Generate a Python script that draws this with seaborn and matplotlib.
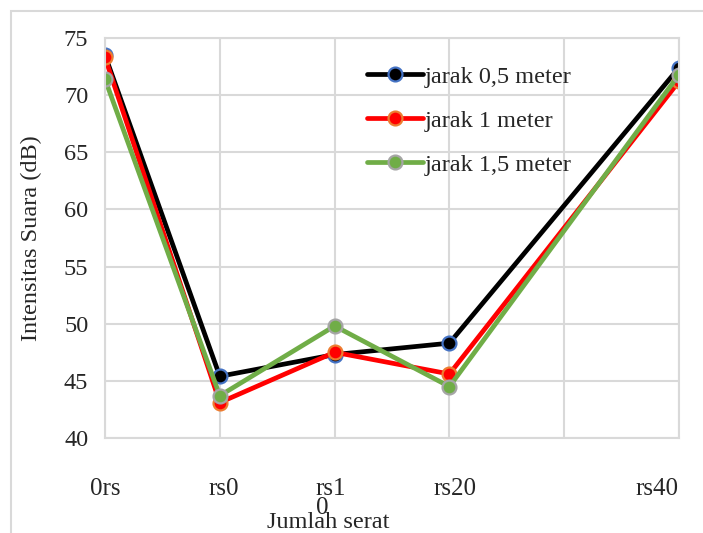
import matplotlib
matplotlib.use("Agg")
import matplotlib.pyplot as plt
import seaborn as sns
import pandas as pd
from matplotlib.patches import Rectangle

# ---- data ----
x_pos = [0, 1, 2, 3, 5]
tick_labels = ["0rs", "rs0", "rs1\n0", "rs20", "rs40"]
tick_label_pos = [0.0, 1.03, 1.97, 3.05, 4.81]
series_names = ["jarak 0,5 meter", "jarak 1 meter", "jarak 1,5 meter"]
s_05 = [73.5, 45.4, 47.3, 48.3, 72.4]
s_10 = [73.3, 43.1, 47.5, 45.6, 71.2]
s_15 = [71.4, 43.7, 49.8, 44.5, 71.8]
line_colors = ["#000000", "#FF0000", "#70AD47"]
edge_colors = ["#4472C4", "#ED7D31", "#A5A5A5"]

FS = 17.5
FSX = 18

sns.set_theme(style="whitegrid")
plt.rcParams["font.family"] = ["Liberation Serif", "DejaVu Serif"]

fig = plt.figure(figsize=(7.03, 5.33), dpi=100)
ax = fig.add_axes([105/703, 1-438/533, (679-105)/703, (438-38)/533])

for name, vals, lc, ec in zip(series_names, [s_05, s_10, s_15], line_colors, edge_colors):
    df = pd.DataFrame({"x": x_pos, "y": vals})
    sns.lineplot(data=df, x="x", y="y", ax=ax, color=lc, linewidth=3.4,
                 marker="o", markersize=10, markerfacecolor=lc,
                 markeredgecolor=ec, markeredgewidth=1.6, label=name)

ax.set_xlim(0, 5)
ax.set_ylim(40, 75)
ax.set_yticks(range(40, 76, 5))
ax.xaxis.remove_overlapping_locs = False
ax.set_xticks(range(0, 6))
ax.set_xticklabels([])
ax.set_xticks(tick_label_pos, minor=True)
ax.set_xticklabels(tick_labels, minor=True, fontsize=FSX, linespacing=0.8,
                   va="top", multialignment="left")
ax.tick_params(axis="x", which="minor", length=0, pad=29)
ax.tick_params(axis="x", which="major", length=0)
ax.tick_params(axis="y", labelsize=FS, length=0, pad=12)
ax.grid(True, which="major", color="#D9D9D9", linewidth=1.5)
ax.grid(False, which="minor")
for sp in ax.spines.values():
    sp.set_color("#D9D9D9")
    sp.set_linewidth(1.5)
ax.set_axisbelow(True)

ax.set_xlabel("Jumlah serat", fontsize=FS)
ax.xaxis.set_label_coords(0.389, -0.21)
ax.xaxis.label.set_va("center")
ax.set_ylabel("Intensitas Suara (dB)", fontsize=FS)
ax.yaxis.set_label_coords(-0.109, 0.5)

leg = ax.legend(loc="upper left", bbox_to_anchor=(0.44, 0.955), frameon=False,
                fontsize=FS, handlelength=2.3, handletextpad=0.05,
                labelspacing=0.9, borderaxespad=0)

fig.patches.append(Rectangle((11/703, -0.1), 1.2, 1 - 11/533 + 0.1,
                             transform=fig.transFigure, fill=False,
                             edgecolor="#D9D9D9", linewidth=1.5, zorder=-1))

fig.savefig("out.png", dpi=100)
